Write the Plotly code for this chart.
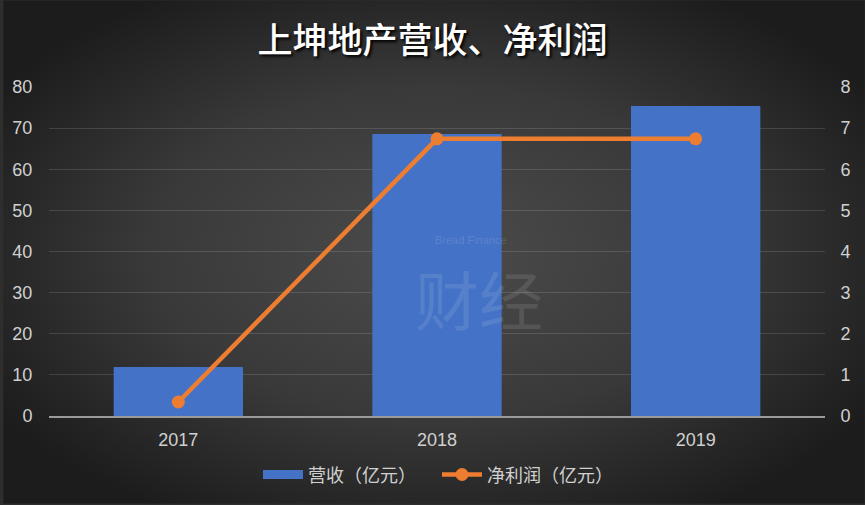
import plotly.graph_objects as go

categories = ["2017", "2018", "2019"]
revenue = [11.9, 68.6, 75.4]        # 营收（亿元）
net_profit = [0.34, 6.74, 6.74]     # 净利润（亿元）
y_left_ticks = [0, 10, 20, 30, 40, 50, 60, 70, 80]
y_right_ticks = [0, 1, 2, 3, 4, 5, 6, 7, 8]

W, H = 865, 505
ML, MR, MT, MB = 46, 40, 87, 88
PW, PH = W - ML - MR, H - MT - MB

svg = (
    "<svg xmlns='http://www.w3.org/2000/svg' width='865' height='505'>"
    "<defs><radialGradient id='g' cx='50%' cy='50%' r='60%'>"
    "<stop offset='0' stop-color='%234c4c4c'/>"
    "<stop offset='0.55' stop-color='%23393939'/>"
    "<stop offset='1' stop-color='%231c1c1c'/>"
    "</radialGradient></defs>"
    "<rect width='865' height='505' fill='url(%23g)'/></svg>"
)
bg_uri = "data:image/svg+xml;utf8," + svg

BAR_COLOR = "#4472c6"
LINE_COLOR = "#ed7d31"

fig = go.Figure()
fig.add_trace(go.Bar(
    x=categories, y=revenue, name="营收（亿元）", width=0.5,
    marker=dict(color=BAR_COLOR, line=dict(width=0)),
    yaxis="y", showlegend=False, legendgroup="rev",
))
# legend proxy for the bar series (wide rectangle key, like the reference)
fig.add_trace(go.Scatter(
    x=[None], y=[None], name="营收（亿元）", mode="lines",
    line=dict(color=BAR_COLOR, width=9), legendgroup="rev",
))
fig.add_trace(go.Scatter(
    x=categories, y=net_profit, name="净利润（亿元）", mode="lines+markers",
    line=dict(color=LINE_COLOR, width=4.5),
    marker=dict(color=LINE_COLOR, size=13),
    yaxis="y2",
))

tickfont = dict(family="Liberation Sans, Arial, sans-serif", size=18, color="#d0d0d0")

fig.update_layout(
    width=W, height=H,
    margin=dict(l=ML, r=MR, t=MT, b=MB, pad=0),
    paper_bgcolor="#2e2e2e",
    plot_bgcolor="rgba(0,0,0,0)",
    images=[dict(
        source=bg_uri, xref="paper", yref="paper",
        x=-ML / PW, y=1 + MT / PH, sizex=W / PW, sizey=H / PH,
        xanchor="left", yanchor="top", sizing="stretch", layer="below",
    )],
    title=dict(
        text="上坤地产营收、净利润",
        x=0.5, xanchor="center", y=1 - 41 / H, yanchor="middle",
        font=dict(family="Noto Sans CJK SC", size=35, color="#ffffff",
                  weight=500, shadow="2px 2px 3px #000000"),
    ),
    xaxis=dict(
        type="category", showgrid=False, showline=True,
        linecolor="#9a9a9a", linewidth=2,
        tickfont=tickfont, ticks="outside", ticklen=6, tickcolor="rgba(0,0,0,0)",
    ),
    yaxis=dict(
        range=[0, 80], tickvals=y_left_ticks, showgrid=True,
        gridcolor="rgba(255,255,255,0.13)", gridwidth=1.3, zeroline=False,
        tickfont=tickfont, ticks="outside", ticklen=12, tickcolor="rgba(0,0,0,0)",
    ),
    yaxis2=dict(
        range=[0, 8], tickvals=y_right_ticks, overlaying="y", side="right",
        showgrid=False, zeroline=False,
        tickfont=tickfont, ticks="outside", ticklen=11, tickcolor="rgba(0,0,0,0)",
    ),
    legend=dict(
        orientation="h", x=0.5, xanchor="center", y=-59 / PH, yanchor="middle",
        font=dict(family="Noto Sans CJK SC", size=18, color="#d0d0d0"),
        bgcolor="rgba(0,0,0,0)", itemwidth=40, tracegroupgap=0,
        entrywidth=124, entrywidthmode="pixels",
    ),
    showlegend=True,
    annotations=[
        dict(text="Bread Finance", xref="paper", yref="paper",
             x=(470 - ML) / PW, y=(417 - 240) / PH, showarrow=False,
             font=dict(family="Liberation Sans", size=11, color="rgba(255,255,255,0.14)")),
        dict(text="财经", xref="paper", yref="paper",
             x=(478 - ML) / PW, y=(417 - 298) / PH, showarrow=False,
             font=dict(family="Noto Sans CJK SC", size=64, color="rgba(255,255,255,0.10)")),
    ],
)

fig.write_html(
    "out.html",
    config={"displayModeBar": False},
    post_script="document.body.style.margin='0';document.body.style.overflow='hidden';",
)
